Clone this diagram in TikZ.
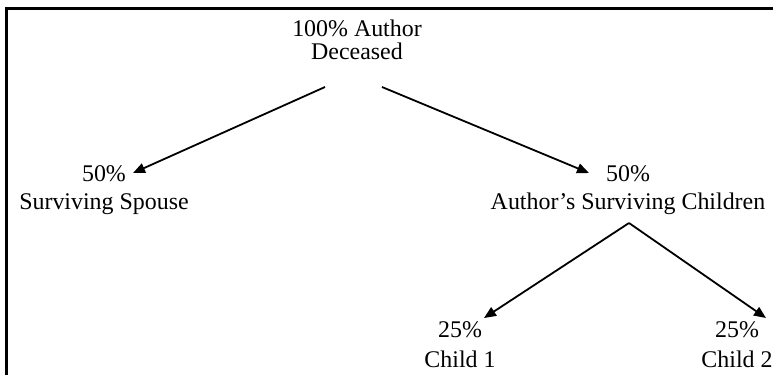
\documentclass[tikz,border=0pt]{standalone}
\usepackage{fontspec}
\setmainfont{Liberation Serif}
\usetikzlibrary{arrows.meta}
\tikzset{
  lbl/.style={align=center, inner sep=0pt, anchor=base, font=\fontsize{24}{28}\selectfont},
  arr/.style={line width=1.8bp, -{Triangle[length=12bp,width=10bp]}},
  frame/.style={line width=3bp}
}
\begin{document}
\begin{tikzpicture}[x=1bp,y=-1bp]
\useasboundingbox (0,0) rectangle (773,375);
\draw[frame] (6,375) -- (6,8) -- (773,8);
\node[lbl, font=\fontsize{24}{23}\selectfont] (top) at (357,59) {100\% Author\\Deceased};
\node[lbl] (sp) at (104,209) {50\%\\Surviving Spouse};
\node[lbl] (ch) at (628,209) {50\%\\Author’s Surviving Children};
\node[lbl, font=\fontsize{24}{30}\selectfont] (c1) at (460,367) {25\%\\Child 1};
\node[lbl, font=\fontsize{24}{30}\selectfont] (c2) at (737,367) {25\%\\Child 2};
\coordinate (tsl) at (325,87);
\coordinate (tsr) at (382,87);
\coordinate (spt) at (133,173);
\coordinate (cht) at (589,173);
\coordinate (chb) at (629,223);
\coordinate (c1t) at (484,318);
\coordinate (c2t) at (766,318);
\draw[arr] (tsl) -- (spt);
\draw[arr] (tsr) -- (cht);
\draw[arr] (chb) -- (c1t);
\draw[arr] (chb) -- (c2t);
\end{tikzpicture}
\end{document}
